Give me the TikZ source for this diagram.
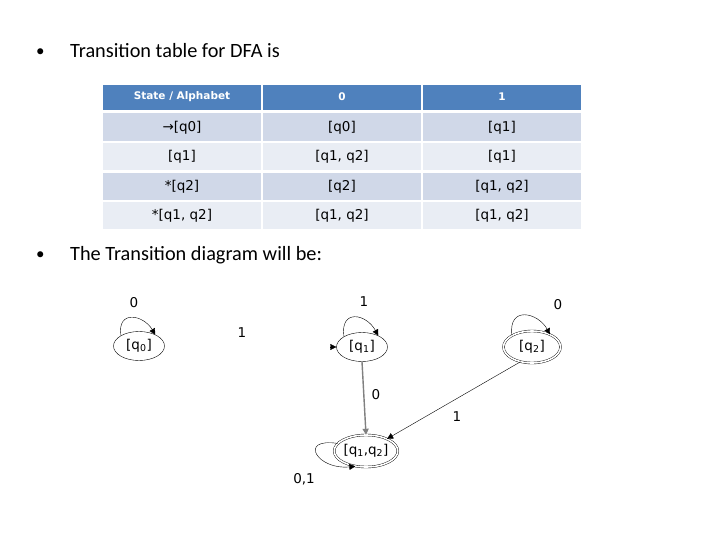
\documentclass[tikz,border=0pt]{standalone}
\usepackage{fontspec}
\setmainfont{Carlito}
\newfontfamily\dv{DejaVu Sans}
\usetikzlibrary{shapes.geometric,arrows.meta,calc}
\definecolor{hdr}{RGB}{79,129,189}
\definecolor{rowA}{RGB}{208,216,232}
\definecolor{rowB}{RGB}{233,237,244}
\definecolor{grayline}{RGB}{128,128,128}
\begin{document}
\begin{tikzpicture}[x=1pt,y=-1pt,
  bullettext/.style={anchor=base west,inner sep=0pt,font=\fontsize{20.3}{22}\selectfont},
  bulletdot/.style={anchor=base west,inner sep=0pt,font=\fontsize{17}{20}\selectfont},
  celltext/.style={inner sep=0pt,font=\dv\fontsize{13.5}{15}\selectfont},
  hdrtext/.style={inner sep=0pt,text=white,font=\dv\bfseries\fontsize{10.5}{12}\selectfont},
  state/.style={ellipse,draw,thin,minimum width=51pt,minimum height=29pt,inner sep=0pt,font=\dv\fontsize{13.5}{15}\selectfont},
  accept/.style={state,double,double distance=1.6pt,minimum width=57pt,minimum height=32pt},
  lbl/.style={inner sep=0pt,font=\dv\fontsize{13.5}{15}\selectfont},
  tip/.style={-{Triangle[length=6pt,width=6pt]}},
]
\useasboundingbox (0,0) rectangle (720,540);
\fill[white] (0,0) rectangle (720,540);

% bullets
\node[bulletdot] (b1) at (36,57) {•};
\node[bullettext] (t1) at (70,58) {Transition table for DFA is};
\node[bulletdot] (b2) at (36,259) {•};
\node[bullettext] (t2) at (70,260) {The Transition diagram will be:};

% table backgrounds
\fill[hdr] (103,85) rectangle (261,110.5);
\fill[hdr] (263,85) rectangle (421,110.5);
\fill[hdr] (423,85) rectangle (581,110.5);
\foreach \ya/\yb/\st in {113.5/141/rowA,143.5/170.5/rowB,173/200.5/rowA,202.5/229.5/rowB}{
  \fill[\st] (103,\ya) rectangle (261,\yb);
  \fill[\st] (263,\ya) rectangle (421,\yb);
  \fill[\st] (423,\ya) rectangle (581,\yb);
}
% table text
\node[hdrtext] (h0) at (182,97) {State / Alphabet};
\node[hdrtext] (h1) at (342,97) {0};
\node[hdrtext] (h2) at (502,97) {1};
\node[celltext] (r1c0) at (182,128) {→[q0]};
\node[celltext] (r1c1) at (342,128) {[q0]};
\node[celltext] (r1c2) at (502,128) {[q1]};
\node[celltext] (r2c0) at (182,157) {[q1]};
\node[celltext] (r2c1) at (342,157) {[q1, q2]};
\node[celltext] (r2c2) at (502,157) {[q1]};
\node[celltext] (r3c0) at (182,187) {*[q2]};
\node[celltext] (r3c1) at (342,187) {[q2]};
\node[celltext] (r3c2) at (502,187) {[q1, q2]};
\node[celltext] (r4c0) at (182,216) {*[q1, q2]};
\node[celltext] (r4c1) at (342,216) {[q1, q2]};
\node[celltext] (r4c2) at (502,216) {[q1, q2]};

% states
\node[state] (q0) at (139,346) {[q\textsubscript{0}]};
\node[state] (q1) at (362,347) {[q\textsubscript{1}]};
\node[accept] (q2) at (532,347) {[q\textsubscript{2}]};
\node[accept] (q12) at (366,451) {[q\textsubscript{1},q\textsubscript{2}]};

% self loops
\draw[tip] (q0.150) .. controls +(-4,-26) and +(-12,-20) .. (q0.35);
\node[lbl] (l0) at (134,303) {0};
\draw[tip] (q1.150) .. controls +(-4,-28) and +(-12,-22) .. (q1.35);
\node[lbl] (l1) at (364,302) {1};
\draw[tip] (q2.150) .. controls +(-4,-30) and +(-12,-22) .. (q2.35);
\node[lbl] (l2) at (558,305) {0};
\draw[tip] (q12.165) .. controls +(-40,-6) and +(-38,4) .. (q12.235);
\node[lbl] (l12) at (304,479) {0,1};

% isolated label and arrowhead at q1
\node[lbl] (l01) at (242,333) {1};
\coordinate (q1in) at ($(q1.west)+(-3,0)$);
\draw[tip] (q1in) -- (q1.west);

% transitions
\draw[tip,grayline,line width=1.4pt] (q1.south) -- (q12.north);
\node[lbl] (l13) at (376,395) {0};
\draw[tip,thin] (q2.232) -- (q12.30);
\node[lbl] (l23) at (457,417) {1};
\end{tikzpicture}
\end{document}
